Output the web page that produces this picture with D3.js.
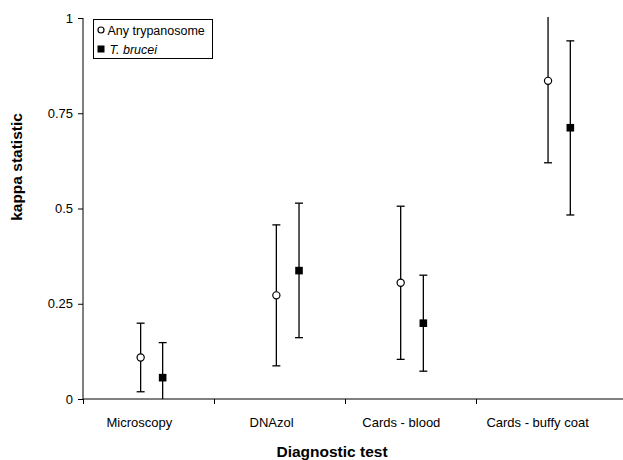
<!DOCTYPE html>
<html><head><meta charset="utf-8">
<script src="https://cdn.jsdelivr.net/npm/d3@7"></script>
<style>body{margin:0;background:#fff}svg{display:block}text{font-family:"Liberation Sans",Arial,sans-serif}</style>
</head><body><svg id="c" width="623" height="460"></svg>
<script>
const categories = ["Microscopy", "DNAzol", "Cards - blood", "Cards - buffy coat"];
const labelPos = [0.93, 1.94, 2.93, 3.97];
const seriesNames = ["Any trypanosome", "T. brucei"];
// x positions (category units), estimate, lower, upper
const anyX = [0.94, 1.976, 2.925, 4.05];
const anyK = [0.109, 0.272, 0.305, 0.835];
const anyLo = [0.019, 0.087, 0.104, 0.620];
const anyHi = [0.199, 0.457, 0.506, 1.05];
const tbX = [1.108, 2.149, 3.098, 4.22];
const tbK = [0.056, 0.337, 0.199, 0.712];
const tbLo = [-0.05, 0.161, 0.073, 0.483];
const tbHi = [0.148, 0.514, 0.325, 0.940];
const yTicks = [0, 0.25, 0.5, 0.75, 1];
const yTickLabels = ["0", "0.25", "0.5", "0.75", "1"];

const svg = d3.select("#c");
const x = d3.scaleLinear().domain([0.5, 4.5]).range([83, 607]);
const y = d3.scaleLinear().domain([0, 1]).range([399, 18]);

svg.append("defs").append("clipPath").attr("id","clip").append("rect")
  .attr("x", 83).attr("y", 17).attr("width", 540).attr("height", 382);

// y axis
const ya = svg.append("g").attr("transform","translate(83,0)")
  .call(d3.axisLeft(y).tickValues(yTicks).tickFormat((d,i)=>yTickLabels[i]).tickSize(5).tickPadding(5));
ya.select(".domain").attr("stroke","#000").attr("d","M0,18V399");
ya.selectAll("text").attr("font-size",13).attr("fill","#000").style("font-family","Liberation Sans, Arial, sans-serif");
ya.selectAll("line").attr("stroke","#000");

// x axis
const xa = svg.append("g").attr("transform","translate(0,399)")
  .call(d3.axisBottom(x).tickValues([0.5,1.5,2.5,3.5]).tickFormat("").tickSize(5));
xa.select(".domain").attr("stroke","#000").attr("d","M83,0H623");
xa.selectAll("line").attr("stroke","#000");

svg.append("g").selectAll("text").data(categories).join("text")
  .attr("x",(d,i)=>x(labelPos[i])).attr("y",426.5).attr("text-anchor","middle")
  .attr("font-size",13).text(d=>d);

svg.append("text").attr("x",332).attr("y",456.5).attr("text-anchor","middle")
  .attr("font-size",15.5).attr("font-weight","bold").text("Diagnostic test");
svg.append("text").attr("transform","translate(22,167) rotate(-90)").attr("text-anchor","middle")
  .attr("font-size",15.5).attr("font-weight","bold").text("kappa statistic");

function drawSeries(xs, ks, lo, hi, kind){
  const g = svg.append("g");
  const bars = g.append("g").attr("clip-path","url(#clip)");
  xs.forEach((xv,i)=>{
    const cx = x(xv);
    bars.append("line").attr("x1",cx).attr("x2",cx).attr("y1",y(lo[i])).attr("y2",y(hi[i]))
      .attr("stroke","#000").attr("stroke-width",1.3);
    [lo[i],hi[i]].forEach(v=>{
      bars.append("line").attr("x1",cx-4).attr("x2",cx+4).attr("y1",y(v)).attr("y2",y(v))
        .attr("stroke","#000").attr("stroke-width",1.3);
    });
    if(kind==="circle"){
      g.append("circle").attr("cx",cx).attr("cy",y(ks[i])).attr("r",3.6)
        .attr("fill","#fff").attr("stroke","#000").attr("stroke-width",1.2);
    } else {
      g.append("rect").attr("x",cx-3.8).attr("y",y(ks[i])-3.8).attr("width",7.6).attr("height",7.6)
        .attr("fill","#000");
    }
  });
}
drawSeries(anyX, anyK, anyLo, anyHi, "circle");
drawSeries(tbX, tbK, tbLo, tbHi, "square");

// legend
const lg = svg.append("g");
lg.append("rect").attr("x",93.5).attr("y",19.5).attr("width",119).attr("height",39)
  .attr("fill","#fff").attr("stroke","#000").attr("stroke-width",1);
lg.append("circle").attr("cx",101).attr("cy",30).attr("r",3).attr("fill","#fff").attr("stroke","#000").attr("stroke-width",1.2);
lg.append("text").attr("x",107.5).attr("y",34.5).attr("font-size",12.5).text(seriesNames[0]);
lg.append("rect").attr("x",97.5).attr("y",45.5).attr("width",7).attr("height",7).attr("fill","#000");
lg.append("text").attr("x",109.5).attr("y",53.5).attr("font-size",12.5).attr("font-style","italic").text(seriesNames[1]);
</script></body></html>
